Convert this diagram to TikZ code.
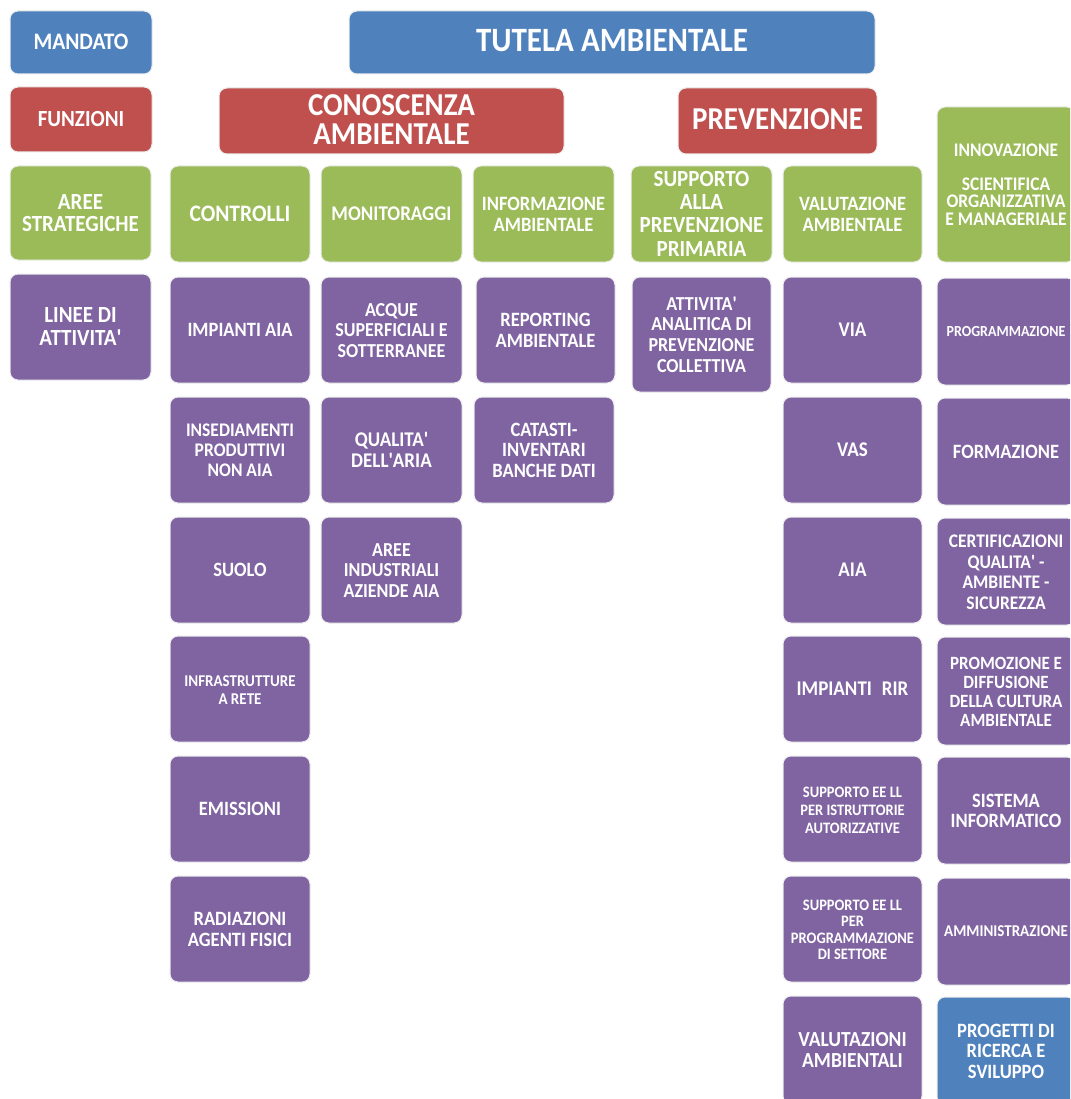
\documentclass[tikz,border=0pt]{standalone}
\usepackage{fontspec}
\setmainfont{Carlito}
\definecolor{cblue}{HTML}{4F81BD}
\definecolor{cred}{HTML}{C0504D}
\definecolor{cgreen}{HTML}{9BBB59}
\definecolor{cpurple}{HTML}{8064A2}
\newcommand{\ap}{\textquotesingle}
\tikzset{obox/.style={rounded corners=8pt, draw=black!7, line width=1pt, text=white, inner sep=0pt}}
\newcommand{\bx}[9]{\node[obox, fill=#6, minimum width={(#4)-(#2)}, minimum height={(#5)-(#3)}, font=\bfseries\fontsize{#7}{#8}\selectfont] (#1) at ({((#2)+(#4))/2},{((#3)+(#5))/2}) {\raisebox{0pt}[\height][\dimexpr\depth-5.5pt\relax]{\scalebox{1}[1.1]{\begin{tabular}{@{}c@{}}#9\end{tabular}}}};}
\begin{document}
\begin{tikzpicture}[x=1pt,y=-1pt]
\useasboundingbox (0,0) rectangle (1070,1099);
\fill[white] (0,0) rectangle (1070,1099);
\clip (0,0) rectangle (1070,1099);
% row 0
\bx{mand}{10}{11}{152}{74}{cblue}{21.5}{21}{MANDATO}
\bx{tutela}{349}{11}{875}{74}{cblue}{31}{30}{TUTELA AMBIENTALE}
% row 1
\bx{funz}{10}{87}{152}{152}{cred}{21}{21}{FUNZIONI}
\bx{conosc}{219}{88}{564}{154}{cred}{29}{26.5}{CONOSCENZA\\AMBIENTALE}
\bx{prev}{678}{88}{877}{154}{cred}{29}{28}{PREVENZIONE}
% row 2 green
\bx{aree}{10}{166}{151}{260}{cgreen}{21}{20}{AREE\\STRATEGICHE}
\bx{contr}{170}{166}{310}{262}{cgreen}{21.5}{21}{CONTROLLI}
\bx{monit}{321}{166}{462}{262}{cgreen}{19}{19}{MONITORAGGI}
\bx{info}{473}{166}{614}{262}{cgreen}{18.5}{19}{INFORMAZIONE\\AMBIENTALE}
\bx{supp}{631}{166}{772}{262}{cgreen}{21}{21}{SUPPORTO\\ALLA\\PREVENZIONE\\PRIMARIA}
\bx{valut}{783}{166}{922}{262}{cgreen}{18.5}{19}{VALUTAZIONE\\AMBIENTALE}
\bx{innov}{937}{107}{1075}{262}{cgreen}{17.5}{15.5}{INNOVAZIONE\\[14.5pt]SCIENTIFICA\\ORGANIZZATIVA\\E MANAGERIALE}
% label column
\bx{linee}{10}{274}{151}{380}{cpurple}{21}{21}{LINEE DI\\ATTIVITA\ap}
% column 1
\bx{c1r1}{170}{277}{310}{383}{cpurple}{18.5}{18}{IMPIANTI AIA}
\bx{c1r2}{170}{397}{310}{503}{cpurple}{17.5}{18.2}{INSEDIAMENTI\\PRODUTTIVI\\NON AIA}
\bx{c1r3}{170}{517}{310}{623}{cpurple}{18.5}{18}{SUOLO}
\bx{c1r4}{170}{636}{310}{742}{cpurple}{15}{16.4}{INFRASTRUTTURE\\A RETE}
\bx{c1r5}{170}{756}{310}{862}{cpurple}{18.5}{18}{EMISSIONI}
\bx{c1r6}{170}{876}{310}{982}{cpurple}{18.5}{19}{RADIAZIONI\\AGENTI FISICI}
% column 2
\bx{c2r1}{321}{277}{462}{383}{cpurple}{18}{18.7}{ACQUE\\SUPERFICIALI E\\SOTTERRANEE}
\bx{c2r2}{321}{397}{462}{503}{cpurple}{19}{18.2}{QUALITA\ap\\DELL\ap ARIA}
\bx{c2r3}{321}{517}{462}{623}{cpurple}{18}{18.7}{AREE\\INDUSTRIALI\\AZIENDE AIA}
% column 3
\bx{c3r1}{476}{277}{615}{383}{cpurple}{18.5}{19}{REPORTING\\AMBIENTALE}
\bx{c3r2}{474}{397}{614}{503}{cpurple}{18.5}{18.7}{CATASTI-\\INVENTARI\\BANCHE DATI}
% column 4
\bx{c4r1}{632}{277}{771}{392}{cpurple}{18}{19}{ATTIVITA\ap\\ANALITICA DI\\PREVENZIONE\\COLLETTIVA}
% column 5
\bx{c5r1}{783}{277}{922}{383}{cpurple}{19}{19}{VIA}
\bx{c5r2}{783}{397}{922}{503}{cpurple}{19}{19}{VAS}
\bx{c5r3}{783}{517}{922}{623}{cpurple}{19}{19}{AIA}
\bx{c5r4}{783}{636}{922}{742}{cpurple}{19}{19}{IMPIANTI\hspace{0.3em} RIR}
\bx{c5r5}{783}{756}{922}{862}{cpurple}{14.5}{16.4}{SUPPORTO EE LL\\PER ISTRUTTORIE\\AUTORIZZATIVE}
\bx{c5r6}{783}{876}{922}{982}{cpurple}{14.5}{15}{SUPPORTO EE LL\\PER\\PROGRAMMAZIONE\\DI SETTORE}
\bx{c5r7}{783}{996}{922}{1104}{cpurple}{19.5}{18.7}{VALUTAZIONI\\AMBIENTALI}
% column 6
\bx{c6r1}{937}{278}{1075}{385}{cpurple}{14}{15}{PROGRAMMAZIONE}
\bx{c6r2}{937}{398}{1075}{505}{cpurple}{18.5}{18}{FORMAZIONE}
\bx{c6r3}{937}{518}{1075}{625}{cpurple}{17.5}{18.7}{CERTIFICAZIONI\\QUALITA\ap\ -\\AMBIENTE -\\SICUREZZA}
\bx{c6r4}{937}{637}{1075}{745}{cpurple}{17}{17.3}{PROMOZIONE E\\DIFFUSIONE\\DELLA CULTURA\\AMBIENTALE}
\bx{c6r5}{937}{757}{1075}{864}{cpurple}{18.5}{18.7}{SISTEMA\\INFORMATICO}
\bx{c6r6}{937}{878}{1075}{985}{cpurple}{15}{15}{AMMINISTRAZIONE}
\bx{c6r7}{937}{997}{1075}{1105}{cblue}{18.5}{18.7}{PROGETTI DI\\RICERCA E\\SVILUPPO}
\end{tikzpicture}
\end{document}
